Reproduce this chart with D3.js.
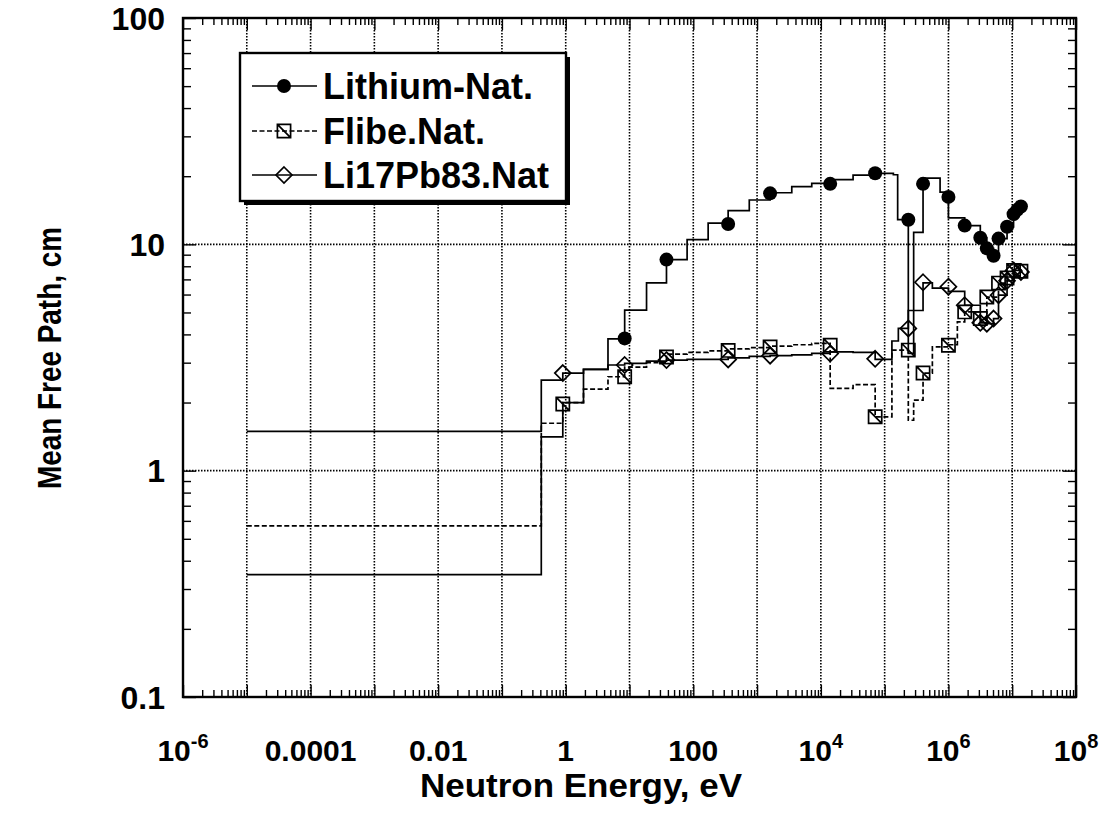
<!DOCTYPE html>
<html><head><meta charset="utf-8">
<script src="https://cdn.jsdelivr.net/npm/d3@7"></script>
<style>
body{margin:0;background:#fff}
svg{display:block}
text{font-family:"Liberation Sans",Arial,Helvetica,sans-serif;font-weight:bold;fill:#000}
</style>
</head><body>
<svg id="c" width="1109" height="819"></svg>
<script>
// ---------------- data ----------------
// Lithium-Nat. : group boundaries (eV) and mean free path (cm) in each group
const liE = [1e-5, 0.414, 0.9, 1.9, 4.6, 8.4, 18.5, 38, 80, 171, 352, 755, 1600, 3500, 7200, 1.4e4, 3.2e4, 7.1e4, 1.37e5, 1.6e5, 2.35e5, 2.85e5, 4.0e5, 7.4e5, 1.0e6, 1.8e6, 3.16e6, 4.0e6, 5.1e6, 6.1e6, 8.3e6, 1.05e7, 1.37e7, 1.45e7];
const liV = [0.347, 1.41, 2.0, 2.8, 3.82, 5.12, 6.75, 8.56, 10.5, 12.4, 14.1, 15.7, 16.9, 18.0, 18.6, 19.3, 20.2, 20.6, 20.3, 12.85, 3.3, 11.3, 19.6, 17.0, 13.1, 12.1, 10.7, 9.6, 8.9, 10.6, 11.95, 13.6, 14.7];
const liMarkE = [8.4, 38, 352, 1600, 1.4e4, 7.1e4, 2.35e5, 4.0e5, 1.0e6, 1.8e6, 3.16e6, 4.0e6, 5.1e6, 6.1e6, 8.3e6, 1.05e7, 1.2e7, 1.37e7];
const liMarkV = [3.84, 8.56, 12.3, 16.8, 18.5, 20.6, 12.85, 18.5, 16.2, 12.1, 10.7, 9.6, 8.9, 10.6, 11.95, 13.6, 14.2, 14.7];

// Flibe.Nat.
const fbE = [1e-5, 0.414, 0.9, 1.9, 4.6, 8.4, 18.5, 38, 80, 171, 352, 755, 1600, 3500, 7200, 1.4e4, 3.2e4, 7.1e4, 1.3e5, 2.35e5, 2.85e5, 4.0e5, 5.6e5, 1.0e6, 1.38e6, 1.8e6, 3.16e6, 4.0e6, 6.1e6, 8.3e6, 1.05e7, 1.37e7, 1.45e7];
const fbV = [0.57, 1.62, 2.0, 2.29, 2.6, 2.87, 3.0, 3.27, 3.33, 3.38, 3.45, 3.5, 3.55, 3.6, 3.65, 2.31, 2.4, 1.73, 3.41, 1.67, 2.05, 2.7, 3.52, 3.6, 4.54, 5.03, 4.7, 5.85, 6.74, 7.1, 7.67, 7.6];
const fbMarkE = [0.9, 8.4, 38, 352, 1600, 1.4e4, 7.1e4, 2.35e5, 4.0e5, 1.0e6, 1.8e6, 3.16e6, 4.0e6, 6.1e6, 8.3e6, 1.05e7, 1.37e7];
const fbMarkV = [1.97, 2.6, 3.18, 3.40, 3.52, 3.58, 1.73, 3.41, 2.7, 3.58, 5.03, 4.7, 5.85, 6.74, 7.1, 7.67, 7.6];

// Li17Pb83.Nat
const pbE = [1e-5, 0.414, 0.9, 1.9, 4.6, 8.4, 18.5, 38, 80, 171, 352, 755, 1600, 3500, 7200, 1.4e4, 3.2e4, 7.1e4, 1.3e5, 1.64e5, 2.35e5, 4.0e5, 5.6e5, 1.0e6, 1.8e6, 3.16e6, 4.0e6, 5.1e6, 6.1e6, 8.3e6, 1.05e7, 1.37e7, 1.45e7];
const pbV = [1.49, 2.51, 2.70, 2.80, 2.93, 2.98, 3.05, 3.08, 3.10, 3.10, 3.15, 3.20, 3.22, 3.25, 3.30, 3.35, 3.33, 3.10, 3.74, 4.25, 5.1, 6.75, 6.4, 6.2, 5.38, 4.5, 4.46, 4.7, 5.96, 6.9, 7.67, 7.55];
const pbMarkE = [0.9, 8.4, 38, 352, 1600, 1.4e4, 7.1e4, 2.35e5, 4.0e5, 1.0e6, 1.8e6, 3.16e6, 4.0e6, 5.1e6, 6.1e6, 8.3e6, 1.05e7, 1.37e7];
const pbMarkV = [2.70, 2.93, 3.08, 3.10, 3.22, 3.29, 3.12, 4.25, 6.8, 6.5, 5.38, 4.5, 4.46, 4.7, 5.96, 6.9, 7.67, 7.55];

const seriesNames = ["Lithium-Nat.", "Flibe.Nat.", "Li17Pb83.Nat"];
const xTickValues = [1e-6, 1e-4, 1e-2, 1, 100, 1e4, 1e6, 1e8];
const xTickLabels = ["10^-6", "0.0001", "0.01", "1", "100", "10^4", "10^6", "10^8"];
const yTickValues = [0.1, 1, 10, 100];
const yTickLabels = ["0.1", "1", "10", "100"];
const xTitle = "Neutron Energy, eV";
const yTitle = "Mean Free Path, cm";

// ---------------- chart ----------------
const svg = d3.select("#c");
const L = 183, R = 1076, T = 18, B = 697;
const x = d3.scaleLog().domain([1e-6, 1e8]).range([L, R]);
const y = d3.scaleLog().domain([0.1, 100]).range([B, T]);

// grid
const gx = d3.range(-5, 8).map(k => Math.pow(10, k));
const gy = [1, 10];
const grid = svg.append("g").attr("stroke", "#000").attr("stroke-width", 1.6).attr("stroke-dasharray", "1.5,1.5");
grid.selectAll("line.v").data(gx).join("line").attr("class", "v")
  .attr("x1", d => x(d)).attr("x2", d => x(d)).attr("y1", T).attr("y2", B);
grid.selectAll("line.h").data(gy).join("line").attr("class", "h")
  .attr("y1", d => y(d)).attr("y2", d => y(d)).attr("x1", L).attr("x2", R);

// step lines
const line = d3.line().x(d => x(d[0])).y(d => y(d[1])).curve(d3.curveStepAfter);
function pts(E, V) { return E.map((e, i) => [e, V[Math.min(i, V.length - 1)]]); }
const lines = svg.append("g").attr("fill", "none").attr("stroke", "#000").attr("stroke-width", 1.7);
lines.append("path").attr("d", line(pts(pbE, pbV)));
lines.append("path").attr("d", line(pts(fbE, fbV))).attr("stroke-dasharray", "5,2.5");
lines.append("path").attr("d", line(pts(liE, liV)));

// markers
function circleM(g, cx, cy) { g.append("circle").attr("cx", cx).attr("cy", cy).attr("r", 7).attr("fill", "#000"); }
function diamondM(g, cx, cy) {
  const s = 8;
  g.append("path").attr("d", `M${cx},${cy - s}L${cx + s},${cy}L${cx},${cy + s}L${cx - s},${cy}Z`)
    .attr("fill", "none").attr("stroke", "#000").attr("stroke-width", 1.7);
}
function boxM(g, cx, cy) {
  const s = 6.6;
  g.append("path").attr("d", `M${cx - s},${cy - s}H${cx + s}V${cy + s}H${cx - s}Z M${cx - s},${cy - s}L${cx + s},${cy + s}`)
    .attr("fill", "none").attr("stroke", "#000").attr("stroke-width", 1.7);
}
const mk = svg.append("g");
fbMarkE.forEach((e, i) => boxM(mk, x(e), y(fbMarkV[i])));
pbMarkE.forEach((e, i) => diamondM(mk, x(e), y(pbMarkV[i])));
liMarkE.forEach((e, i) => circleM(mk, x(e), y(liMarkV[i])));

// ticks
const xMinor = [], yMinor = [];
for (let k = -6; k < 8; k++) for (let m = 2; m <= 9; m++) xMinor.push(m * Math.pow(10, k));
for (let k = -1; k < 2; k++) for (let m = 2; m <= 9; m++) yMinor.push(m * Math.pow(10, k));
const xMajor = d3.range(-6, 9).map(k => Math.pow(10, k));
function addAxis(gen, tr, vals, size) {
  const g = svg.append("g").attr("transform", tr)
    .call(gen.tickValues(vals).tickSize(size).tickFormat(""));
  g.select(".domain").remove();
  g.selectAll("line").attr("stroke", "#000").attr("stroke-width", 1.4);
}
addAxis(d3.axisBottom(x), `translate(0,${B})`, xMinor, -7);
addAxis(d3.axisBottom(x), `translate(0,${B})`, xMajor, -12);
addAxis(d3.axisTop(x), `translate(0,${T})`, xMinor, -7);
addAxis(d3.axisTop(x), `translate(0,${T})`, xMajor, -12);
addAxis(d3.axisLeft(y), `translate(${L},0)`, yMinor, -8);
addAxis(d3.axisLeft(y), `translate(${L},0)`, yTickValues, -13);
addAxis(d3.axisRight(y), `translate(${R},0)`, yMinor, -8);
addAxis(d3.axisRight(y), `translate(${R},0)`, yTickValues, -13);

// frame
svg.append("rect").attr("x", L).attr("y", T).attr("width", R - L).attr("height", B - T)
  .attr("fill", "none").attr("stroke", "#000").attr("stroke-width", 2.4);

// tick labels
const xl = svg.append("g");
xTickValues.forEach((v, i) => {
  const lab = xTickLabels[i];
  const t = xl.append("text").attr("x", x(v)).attr("y", 761).attr("text-anchor", "middle").attr("font-size", 30);
  if (lab.includes("^")) {
    const [b, s] = lab.split("^");
    t.append("tspan").text(b);
    t.append("tspan").attr("dy", -13).attr("font-size", 20).text(s);
  } else t.text(lab);
});
yTickValues.forEach((v, i) => {
  svg.append("text").attr("x", 165).attr("y", y(v)).attr("dy", "0.36em")
    .attr("text-anchor", "end").attr("font-size", 32).text(yTickLabels[i]);
});

// titles
svg.append("text").attr("x", 581).attr("y", 797).attr("text-anchor", "middle")
  .attr("font-size", 33).attr("textLength", 322).attr("lengthAdjust", "spacingAndGlyphs").text(xTitle);
svg.append("text").attr("transform", "translate(61,358) rotate(-90)").attr("text-anchor", "middle")
  .attr("font-size", 33).attr("textLength", 262).attr("lengthAdjust", "spacingAndGlyphs").text(yTitle);

// legend
const lg = svg.append("g");
lg.append("rect").attr("x", 244).attr("y", 57).attr("width", 326).attr("height", 148).attr("fill", "#000");
lg.append("rect").attr("x", 240).attr("y", 53).attr("width", 326).attr("height", 148)
  .attr("fill", "#fff").attr("stroke", "#000").attr("stroke-width", 2.4);
const rows = [86, 131, 175];
const drawers = [circleM, boxM, diamondM];
seriesNames.forEach((name, i) => {
  const ry = rows[i];
  const ln = lg.append("line").attr("x1", 252).attr("x2", 317).attr("y1", ry).attr("y2", ry)
    .attr("stroke", "#000").attr("stroke-width", 1.7);
  if (i === 1) ln.attr("stroke-dasharray", "5,2.5");
  drawers[i](lg, 284, ry);
  lg.append("text").attr("x", 323).attr("y", ry + 13).attr("font-size", 36).text(name);
});
</script>
</body></html>
